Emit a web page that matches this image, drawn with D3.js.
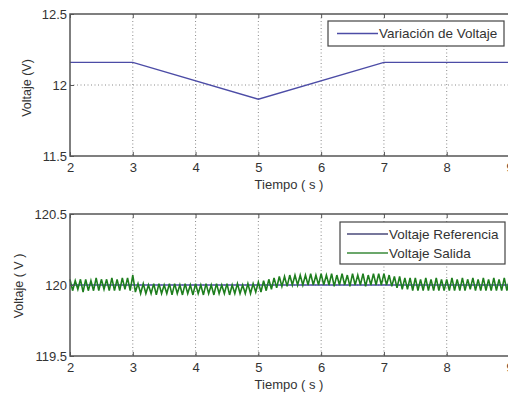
<!DOCTYPE html>
<html>
<head>
<meta charset="utf-8">
<script src="https://cdn.jsdelivr.net/npm/d3@7"></script>
<style>
  body { margin: 0; background: #fff; }
  svg { display: block; font-family: "Liberation Sans", Arial, sans-serif; }
</style>
</head>
<body>
<div id="chart"></div>
<script>
'use strict';

// top plot: voltage variation (V)
const varTime = [2, 3, 5, 7, 9];
const varVolt = [12.16, 12.16, 11.90, 12.16, 12.16];

// bottom plot: reference and output voltage
const refTime = [2, 9];
const refVolt = [120, 120];

// output voltage samples, starting at t = 2 s, one every 1/24 s
const outStart = 2, outStep = 1 / 24;
const outVolt = [
  120.04,119.96,120.03,119.97,120.04,119.95,120.04,119.96,120.03,119.96,120.05,119.96,120.04,119.97,120.04,119.96,120.05,119.96,120.04,119.96,120.05,119.97,120.05,119.96,
  120.07,119.95,120.01,119.94,120.01,119.94,120.00,119.94,120.01,119.93,120.01,119.94,120.00,119.94,120.01,119.93,120.01,119.94,120.00,119.93,120.01,119.94,120.00,119.93,
  120.01,119.94,120.00,119.93,120.01,119.94,120.00,119.93,120.01,119.94,120.00,119.94,120.01,119.93,120.00,119.94,120.01,119.94,120.00,119.94,120.01,119.94,120.01,119.95,
  120.02,119.95,120.03,119.96,120.04,119.97,120.05,119.98,120.06,119.99,120.06,119.99,120.07,120.00,120.07,120.00,120.07,120.00,120.07,120.00,120.08,120.00,120.07,120.00,
  120.08,120.00,120.07,120.00,120.08,119.99,120.07,120.00,120.08,120.00,120.07,119.99,120.08,120.00,120.07,120.00,120.08,119.99,120.07,120.00,120.08,120.00,120.08,120.00,
  120.08,120.00,120.07,119.99,120.06,119.98,120.06,119.97,120.05,119.97,120.05,119.96,120.05,119.96,120.04,119.96,120.05,119.96,120.04,119.96,120.05,119.96,120.04,119.96,
  120.04,119.96,120.05,119.96,120.04,119.96,120.05,119.96,120.04,119.97,120.05,119.96,120.04,119.96,120.05,119.96,120.04,119.96,120.05,119.96,120.04,119.96,120.05,119.96,
  120.04
];

const xTicks = [2, 3, 4, 5, 6, 7, 8, 9];

const width = 508, height = 396;
const svg = d3.select('#chart').append('svg')
  .attr('width', width)
  .attr('height', height);

const x = d3.scaleLinear().domain([2, 9]).range([70, 509.5]);

function panel(opts) {
  const y = d3.scaleLinear().domain(opts.yDomain).range([opts.bottom, opts.top]);
  const g = svg.append('g');

  // grid
  g.selectAll('.vgrid').data(xTicks.slice(1))
    .enter().append('line')
    .attr('x1', d => x(d)).attr('x2', d => x(d))
    .attr('y1', opts.top).attr('y2', opts.bottom)
    .attr('stroke', '#8a8a8a').attr('stroke-width', 1)
    .attr('stroke-dasharray', '1,2.5');
  g.append('line')
    .attr('x1', x(2)).attr('x2', width)
    .attr('y1', y(opts.yTicks[1])).attr('y2', y(opts.yTicks[1]))
    .attr('stroke', '#8a8a8a').attr('stroke-dasharray', '1,2.5');

  // series
  opts.series.forEach(s => {
    g.append('path')
      .datum(s.values)
      .attr('fill', 'none')
      .attr('stroke', s.color)
      .attr('stroke-width', s.width)
      .attr('d', d3.line().x((d, i) => x(s.time(i))).y(d => y(d)));
  });

  // box
  g.append('rect')
    .attr('x', x(2)).attr('y', opts.top)
    .attr('width', x(9) - x(2)).attr('height', opts.bottom - opts.top)
    .attr('fill', 'none').attr('stroke', '#555').attr('stroke-width', 1.5);

  // axes (ticks pointing inward)
  const xAxis = g.append('g')
    .attr('transform', 'translate(0,' + opts.bottom + ')')
    .call(d3.axisBottom(x).tickValues(xTicks).tickSizeInner(-4).tickSizeOuter(0)
      .tickPadding(7).tickFormat(d3.format('d')));
  g.append('g')
    .attr('transform', 'translate(0,' + opts.top + ')')
    .call(d3.axisTop(x).tickValues(xTicks).tickSizeInner(-4).tickSizeOuter(0).tickFormat(''))
    .call(a => a.select('.domain').remove())
    .selectAll('line').attr('stroke', '#555');
  const yAxis = g.append('g')
    .attr('transform', 'translate(' + x(2) + ',0)')
    .call(d3.axisLeft(y).tickValues(opts.yTicks).tickSizeInner(-4).tickSizeOuter(0).tickPadding(3)
      .tickFormat(d3.format('')));
  [xAxis, yAxis].forEach(a => {
    a.select('.domain').remove();
    a.selectAll('line').attr('stroke', '#555');
    a.selectAll('text').attr('fill', '#333').attr('font-size', 13)
      .attr('font-family', '"Liberation Sans", Arial, sans-serif');
  });
  yAxis.selectAll('text').attr('dy', '0.32em');

  // labels
  svg.append('text')
    .attr('x', 289).attr('y', opts.bottom + 33)
    .attr('text-anchor', 'middle').attr('font-size', 13).attr('fill', '#333')
    .text('Tiempo ( s )');
  svg.append('text')
    .attr('transform', 'translate(' + opts.yLabelX + ',' + opts.yLabelY + ') rotate(-90)')
    .attr('text-anchor', 'middle').attr('font-size', 12.5).attr('fill', '#333')
    .text(opts.yLabel);

  // legend
  const lg = svg.append('g');
  lg.append('rect')
    .attr('x', opts.legend.x).attr('y', opts.legend.y)
    .attr('width', opts.legend.w).attr('height', opts.legend.h)
    .attr('fill', '#fff').attr('stroke', '#444').attr('stroke-width', 1.2);
  opts.series.forEach((s, i) => {
    const ly = opts.legend.y + opts.legend.first + i * opts.legend.gap;
    lg.append('line')
      .attr('x1', opts.legend.x + opts.legend.lx).attr('x2', opts.legend.x + opts.legend.lx + 41)
      .attr('y1', ly).attr('y2', ly)
      .attr('stroke', s.legendColor || s.color).attr('stroke-width', 1.3);
    lg.append('text')
      .attr('x', opts.legend.x + opts.legend.lx + 42).attr('y', ly)
      .attr('dy', '0.35em').attr('font-size', 13.5).attr('fill', '#333')
      .text(s.name);
  });
}

panel({
  top: 14, bottom: 156,
  yDomain: [11.5, 12.5], yTicks: [11.5, 12, 12.5],
  yLabel: 'Voltaje (V)', yLabelX: 31, yLabelY: 88,
  series: [
    { name: 'Variación de Voltaje', color: '#4c4ca6', width: 1.3,
      values: varVolt, time: i => varTime[i] }
  ],
  legend: { x: 328, y: 21, w: 176, h: 25, first: 12.5, gap: 19, lx: 9 }
});

panel({
  top: 214, bottom: 356,
  yDomain: [119.5, 120.5], yTicks: [119.5, 120, 120.5],
  yLabel: 'Voltaje ( V )', yLabelX: 23, yLabelY: 286,
  series: [
    { name: 'Voltaje Referencia', color: '#4c4ca6', width: 1.3, legendColor: '#4a4a7a',
      values: refVolt, time: i => refTime[i] },
    { name: 'Voltaje Salida', color: '#1e7e1e', width: 1.6, legendColor: '#3a8a3a',
      values: outVolt, time: i => outStart + i * outStep }
  ],
  legend: { x: 340, y: 222, w: 165, h: 42, first: 12, gap: 19, lx: 7 }
});
</script>
</body>
</html>
